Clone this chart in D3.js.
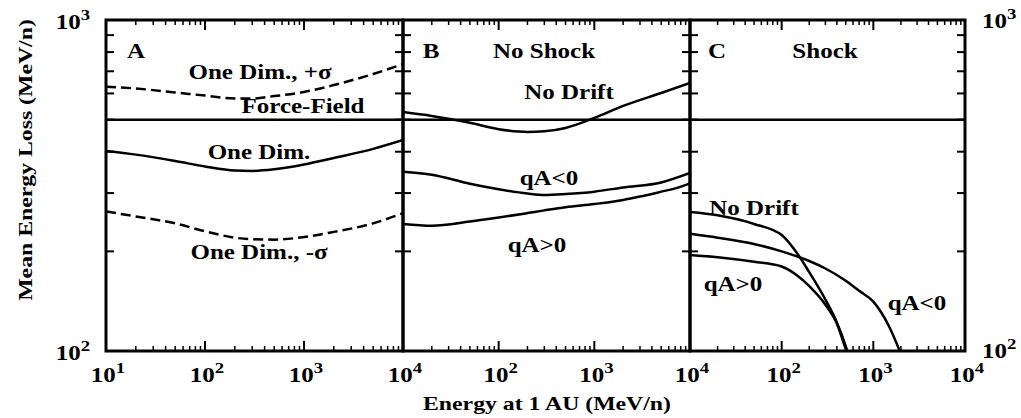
<!DOCTYPE html>
<html>
<head>
<meta charset="utf-8">
<script src="https://cdn.jsdelivr.net/npm/d3@7"></script>
<style>
  body { margin: 0; background: #fff; }
  text { font-family: "Liberation Serif", "DejaVu Serif", serif; fill: #000; font-weight: bold; }
</style>
</head>
<body>
<div id="chart"></div>
<script>
// energies (MeV/n) at which curves are sampled
const energyA = [10, 20, 50, 100, 200, 300, 500, 1000, 2000, 5000, 10000];
const oneDimPlus = [629, 621, 604, 591, 579, 579, 589, 606, 636, 687, 736];
const oneDim = [402, 392, 375, 361, 351, 350, 354, 366, 383, 408, 434];
const oneDimMinus = [264, 255, 243, 230, 220, 217.5, 217, 221, 229, 243, 261];
const forceField = 500;

const energyB = [10, 20, 50, 100, 200, 300, 500, 1000, 2000, 5000, 10000];
const noDriftB = [527, 513, 489, 468, 459, 461, 472, 506, 550, 602, 645];
const qaNegB = [348, 341, 320, 308, 299, 296, 298, 303, 312, 323, 345];
const energyB2 = [10, 20, 50, 100, 200, 300, 500, 1000, 2000, 3000, 4000, 5000, 7000, 10000];
const qaPosB = [242, 239, 246, 253, 261, 266, 272, 278, 286, 293, 298, 303, 310, 321];

const energyC = [10, 20, 50, 100, 150, 200, 300, 400, 500, 550];
const noDriftC = [263, 257, 242, 224, 196, 173, 143, 122, 103.5, 95];
const qaPosC = [195, 192, 186, 180, 168.5, 157, 138, 121, 101.4, 95];
const energyC2 = [10, 20, 50, 100, 200, 300, 500, 700, 1000, 1500, 2000];
const qaNegC = [226, 220, 210.5, 200, 187, 177.5, 163, 152, 141, 118, 98];

const xTickVals = [10, 100, 1000, 10000];
const yTickMinor = [200, 300, 400, 500, 600, 700, 800, 900];

const svg = d3.select("#chart").append("svg")
  .attr("width", 1021).attr("height", 418);

const plotTop = 20, plotBottom = 351;
const panelEdges = [106, 403, 690, 965];
const stretch = 1.25; // the reference type is set wide

const y = d3.scaleLog().domain([100, 1000]).range([plotBottom, plotTop]);

const panels = [
  { id: "A", curves: [
      { e: energyA, v: oneDimPlus, dash: "10,5" },
      { e: energyA, v: oneDim },
      { e: energyA, v: oneDimMinus, dash: "10,5" }],
    labels: [
      { t: "A", x: 136, y: 58 },
      { t: "One Dim., +σ", x: 260, y: 79 },
      { t: "Force-Field", x: 303, y: 113 },
      { t: "One Dim.", x: 259, y: 159 },
      { t: "One Dim., -σ", x: 259, y: 259 }],
    tickLabels: [10, 100, 1000, 10000] },
  { id: "B", curves: [
      { e: energyB, v: noDriftB },
      { e: energyB, v: qaNegB },
      { e: energyB2, v: qaPosB }],
    labels: [
      { t: "B", x: 431, y: 58 },
      { t: "No Shock", x: 544, y: 58 },
      { t: "No Drift", x: 569, y: 99 },
      { t: "qA<0", x: 549, y: 185 },
      { t: "qA>0", x: 537, y: 252 }],
    tickLabels: [100, 1000, 10000] },
  { id: "C", curves: [
      { e: energyC, v: noDriftC },
      { e: energyC, v: qaPosC },
      { e: energyC2, v: qaNegC }],
    labels: [
      { t: "C", x: 717, y: 58 },
      { t: "Shock", x: 825, y: 58 },
      { t: "No Drift", x: 754, y: 215 },
      { t: "qA>0", x: 733, y: 291 },
      { t: "qA<0", x: 917, y: 310 }],
    tickLabels: [100, 1000, 10000] }
];

function addText(parent, x, y, anchor, size, rotate) {
  return parent.append("text")
    .attr("transform", `translate(${x},${y})${rotate ? " rotate(" + rotate + ")" : ""} scale(${stretch},1)`)
    .attr("text-anchor", anchor).attr("font-size", size);
}

function powLabel(sel, exp) {
  sel.append("tspan").text("10");
  sel.append("tspan").attr("dy", -9).attr("font-size", 15).text(exp);
}

panels.forEach((p, i) => {
  const x0 = panelEdges[i], x1 = panelEdges[i + 1];
  const x = d3.scaleLog().domain([10, 10000]).range([x0, x1]);
  const g = svg.append("g");

  g.append("clipPath").attr("id", "clip" + p.id)
    .append("rect").attr("x", x0).attr("y", plotTop).attr("width", x1 - x0).attr("height", plotBottom - plotTop);

  // ticks on all four sides, inside
  const minor = x.ticks(30).filter(d => !xTickVals.includes(d));
  g.selectAll(".mx").data(minor).join("line")
    .attr("x1", d => x(d)).attr("x2", d => x(d))
    .attr("y1", plotBottom).attr("y2", plotBottom - 5)
    .attr("stroke", "#000").attr("stroke-width", 1.5);
  g.selectAll(".mxt").data(minor).join("line")
    .attr("x1", d => x(d)).attr("x2", d => x(d))
    .attr("y1", plotTop).attr("y2", plotTop + 5)
    .attr("stroke", "#000").attr("stroke-width", 1.5);
  g.selectAll(".Mx").data([100, 1000]).join("line")
    .attr("x1", d => x(d)).attr("x2", d => x(d))
    .attr("y1", plotBottom).attr("y2", plotBottom - 10)
    .attr("stroke", "#000").attr("stroke-width", 2);
  g.selectAll(".Mxt").data([100, 1000]).join("line")
    .attr("x1", d => x(d)).attr("x2", d => x(d))
    .attr("y1", plotTop).attr("y2", plotTop + 10)
    .attr("stroke", "#000").attr("stroke-width", 2);
  g.selectAll(".yl").data(yTickMinor).join("line")
    .attr("x1", x0).attr("x2", x0 + 8)
    .attr("y1", d => y(d)).attr("y2", d => y(d))
    .attr("stroke", "#000").attr("stroke-width", 2);
  g.selectAll(".yr").data(yTickMinor).join("line")
    .attr("x1", x1).attr("x2", x1 - 8)
    .attr("y1", d => y(d)).attr("y2", d => y(d))
    .attr("stroke", "#000").attr("stroke-width", 2);

  // Force-Field reference line
  g.append("line")
    .attr("x1", x0).attr("x2", x1)
    .attr("y1", y(forceField)).attr("y2", y(forceField))
    .attr("stroke", "#000").attr("stroke-width", 2.5);

  const line = d3.line().curve(d3.curveMonotoneX);
  p.curves.forEach(c => {
    g.append("path")
      .attr("clip-path", `url(#clip${p.id})`)
      .attr("d", line(c.e.map((e, k) => [x(e), y(c.v[k])])))
      .attr("fill", "none")
      .attr("stroke", "#000")
      .attr("stroke-width", 2.5)
      .attr("stroke-dasharray", c.dash || null);
  });

  g.append("rect")
    .attr("x", x0).attr("y", plotTop).attr("width", x1 - x0).attr("height", plotBottom - plotTop)
    .attr("fill", "none").attr("stroke", "#000").attr("stroke-width", 3);

  p.labels.forEach(l => {
    addText(g, l.x, l.y, "middle", 20).text(l.t);
  });

  p.tickLabels.forEach(d => {
    const t = addText(g, x(d) + 2, 382, "middle", 20);
    powLabel(t, Math.round(Math.log10(d)));
  });
});

// y labels, left and right
[[1000, 29], [100, 360]].forEach(([v, yy]) => {
  powLabel(addText(svg, 90, yy, "end", 20), Math.round(Math.log10(v)));
  powLabel(addText(svg, 982, v === 1000 ? 28 : 358, "start", 20), Math.round(Math.log10(v)));
});

addText(svg, 547, 410, "middle", 19).text("Energy at 1 AU (MeV/n)");
addText(svg, 32, 160, "middle", 19, -90).text("Mean Energy Loss (MeV/n)");
</script>
</body>
</html>
